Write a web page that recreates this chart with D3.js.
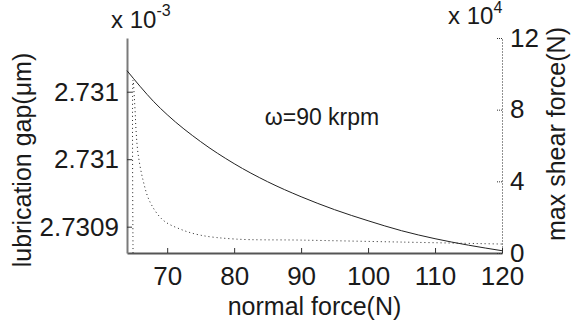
<!DOCTYPE html>
<html>
<head>
<meta charset="utf-8">
<script src="https://cdn.jsdelivr.net/npm/d3@7"></script>
<style>
  body { margin: 0; background: #fff; }
  svg, svg text { font-family: "Liberation Sans", Arial, sans-serif; }
</style>
</head>
<body>
<div id="chart"></div>
<script>
// normal force (N) vs lubrication gap (x 10^-3 um), solid line
const gapForce = [64, 66, 68, 70, 75, 80, 85, 90, 95, 100, 105, 110, 115, 120];
const gapValues = [2.7310156, 2.7310037, 2.7309926, 2.7309830, 2.7309630, 2.7309467, 2.7309333,
  2.7309222, 2.7309126, 2.7309044, 2.7308970, 2.7308911, 2.7308863, 2.7308822];

// normal force (N) vs max shear force (N), dotted line
const shearForce = [64.9, 64.9, 65.2, 65.35, 65.64, 66.39, 67.43, 69.37, 71.9, 74.9, 80.1, 90, 105, 120];
const shearValues = [0, 96500, 80000, 68600, 55800, 40700, 28500, 18400, 13400, 10000, 7800, 7200, 6100, 5000];

const xTicks = [70, 80, 90, 100, 110, 120];
const leftTicks = [2.73090, 2.73095, 2.73100];
const leftTickLabels = ['2.7309', '2.731', '2.731'];
const rightTicks = [0, 40000, 80000, 120000];
const rightTickLabels = ['0', '4', '8', '12'];

const W = 576, H = 332;
const margin = { top: 38, right: 74, bottom: 79, left: 127 };
const font = '"Liberation Sans", Arial, sans-serif';

const svg = d3.select('#chart')
  .append('svg')
  .attr('width', W)
  .attr('height', H);

const x = d3.scaleLinear()
  .domain([64, 120])
  .range([margin.left, W - margin.right]);

const yL = d3.scaleLinear()
  .domain([2.7308805, 2.7310398])
  .range([H - margin.bottom, margin.top]);

const yR = d3.scaleLinear()
  .domain([0, 120000])
  .range([H - margin.bottom, margin.top]);

// x-axis
const xAxis = svg.append('g')
  .attr('transform', `translate(0, ${H - margin.bottom})`)
  .call(d3.axisBottom(x).tickValues(xTicks).tickSize(-5).tickPadding(14).tickSizeOuter(0));
xAxis.select('.domain').attr('stroke', '#555').attr('stroke-width', 2);
xAxis.selectAll('.tick line').attr('stroke', '#333');
xAxis.selectAll('.tick text').attr('fill', '#1a1a1a')
  .style('font-family', font).style('font-size', '26px');

// left axis
const lAxis = svg.append('g')
  .attr('transform', `translate(${margin.left}, 0)`)
  .call(d3.axisLeft(yL).tickValues(leftTicks)
    .tickFormat((d, i) => leftTickLabels[i])
    .tickSize(-5).tickPadding(8).tickSizeOuter(0));
lAxis.select('.domain').attr('stroke', '#7a7a7a').attr('stroke-width', 2);
lAxis.selectAll('.tick line').attr('stroke', '#333');
lAxis.selectAll('.tick text').attr('fill', '#1a1a1a')
  .style('font-family', font).style('font-size', '26px');

// right axis (dotted)
const rAxis = svg.append('g')
  .attr('transform', `translate(${W - margin.right}, 0)`)
  .call(d3.axisRight(yR).tickValues(rightTicks)
    .tickFormat((d, i) => rightTickLabels[i])
    .tickSize(-5).tickPadding(8).tickSizeOuter(0));
rAxis.select('.domain').attr('stroke', '#222').attr('stroke-width', 1).attr('stroke-dasharray', '1,2');
rAxis.selectAll('.tick line').attr('stroke', '#333').attr('stroke-dasharray', '1,1');
rAxis.selectAll('.tick text').attr('fill', '#1a1a1a')
  .style('font-family', font).style('font-size', '26px');

// lubrication gap line
const gapLine = d3.line()
  .curve(d3.curveMonotoneX)
  .x((d, i) => x(gapForce[i]))
  .y(d => yL(d));

svg.append('path')
  .datum(gapValues)
  .attr('fill', 'none')
  .attr('stroke', '#222')
  .attr('stroke-width', 1)
  .attr('d', gapLine);

// max shear force line
const shearLine = d3.line()
  .curve(d3.curveCatmullRom)
  .x((d, i) => x(shearForce[i]))
  .y(d => yR(d));

svg.append('path')
  .datum(shearValues)
  .attr('fill', 'none')
  .attr('stroke', '#222')
  .attr('stroke-width', 1)
  .attr('stroke-dasharray', '1,3')
  .attr('d', shearLine);

// axis labels
svg.append('text')
  .attr('x', (margin.left + W - margin.right) / 2)
  .attr('y', 315)
  .attr('text-anchor', 'middle')
  .attr('fill', '#1a1a1a')
  .style('font-size', '25px')
  .text('normal force(N)');

svg.append('text')
  .attr('transform', 'translate(31, 160) rotate(-90)')
  .attr('text-anchor', 'middle')
  .attr('fill', '#1a1a1a')
  .style('font-size', '25px')
  .text('lubrication gap(μm)');

svg.append('text')
  .attr('transform', 'translate(565, 134) rotate(-90)')
  .attr('text-anchor', 'middle')
  .attr('fill', '#1a1a1a')
  .style('font-size', '25px')
  .text('max shear force(N)');

// exponent labels
const expL = svg.append('text')
  .attr('x', 111)
  .attr('y', 28)
  .attr('fill', '#1a1a1a')
  .style('font-size', '24px');
expL.append('tspan').text('x 10');
expL.append('tspan').attr('dy', -12).style('font-size', '16px').text('-3');

const expR = svg.append('text')
  .attr('x', 448)
  .attr('y', 24)
  .attr('fill', '#1a1a1a')
  .style('font-size', '24px');
expR.append('tspan').text('x 10');
expR.append('tspan').attr('dy', -11).style('font-size', '16px').text('4');

// annotation
svg.append('text')
  .attr('x', 322)
  .attr('y', 125)
  .attr('text-anchor', 'middle')
  .attr('fill', '#1a1a1a')
  .style('font-size', '23px')
  .text('ω=90 krpm');
</script>
</body>
</html>
